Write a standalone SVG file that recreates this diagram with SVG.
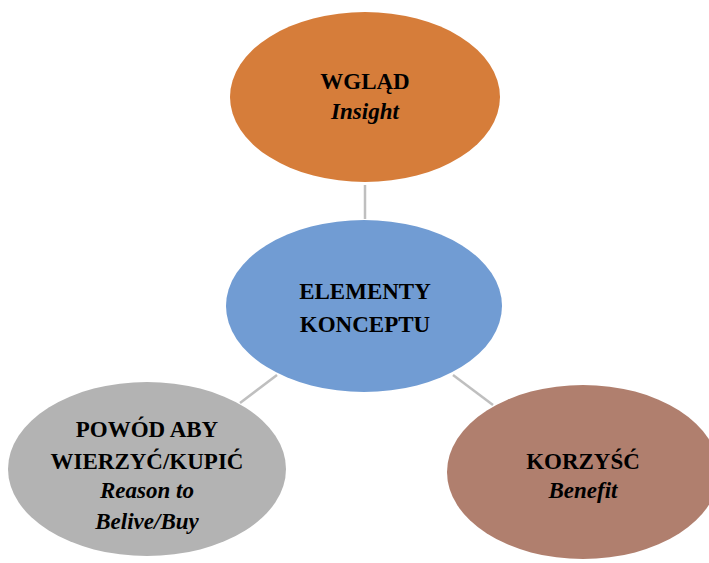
<svg xmlns="http://www.w3.org/2000/svg" width="709" height="563" viewBox="0 0 709 563">
  <style>
    text { font-family: 'Liberation Serif', 'Times New Roman', serif; font-size: 23px; font-weight: bold; fill: #000; text-anchor: middle; }
    .it { font-style: italic; }
    .link { stroke: #BFBFBF; stroke-width: 2.5; fill: none; }
  </style>
  <rect width="709" height="563" fill="#ffffff"/>
  <g id="connectors">
    <line class="link" x1="365" y1="185" x2="365" y2="219"/>
    <line class="link" x1="277" y1="375" x2="240" y2="403"/>
    <line class="link" x1="453" y1="375" x2="493" y2="405"/>
  </g>
  <g id="node-wglad">
    <ellipse cx="365" cy="97" rx="135" ry="85" fill="#D67D3A"/>
    <text x="365" y="89">WGLĄD</text>
    <text class="it" x="365" y="119">Insight</text>
  </g>
  <g id="node-elementy">
    <ellipse cx="364" cy="306" rx="138" ry="86" fill="#719CD3"/>
    <text x="365" y="299">ELEMENTY</text>
    <text x="365" y="332">KONCEPTU</text>
  </g>
  <g id="node-powod">
    <ellipse cx="147" cy="469" rx="139" ry="87" fill="#B3B3B3"/>
    <text x="147" y="437">POWÓD ABY</text>
    <text x="147" y="469">WIERZYĆ/KUPIĆ</text>
    <text class="it" x="147" y="498">Reason to</text>
    <text class="it" x="147" y="529">Belive/Buy</text>
  </g>
  <g id="node-korzysc">
    <ellipse cx="583" cy="472" rx="136" ry="87" fill="#B07F6E"/>
    <text x="583" y="469">KORZYŚĆ</text>
    <text class="it" x="583" y="498">Benefit</text>
  </g>
</svg>
